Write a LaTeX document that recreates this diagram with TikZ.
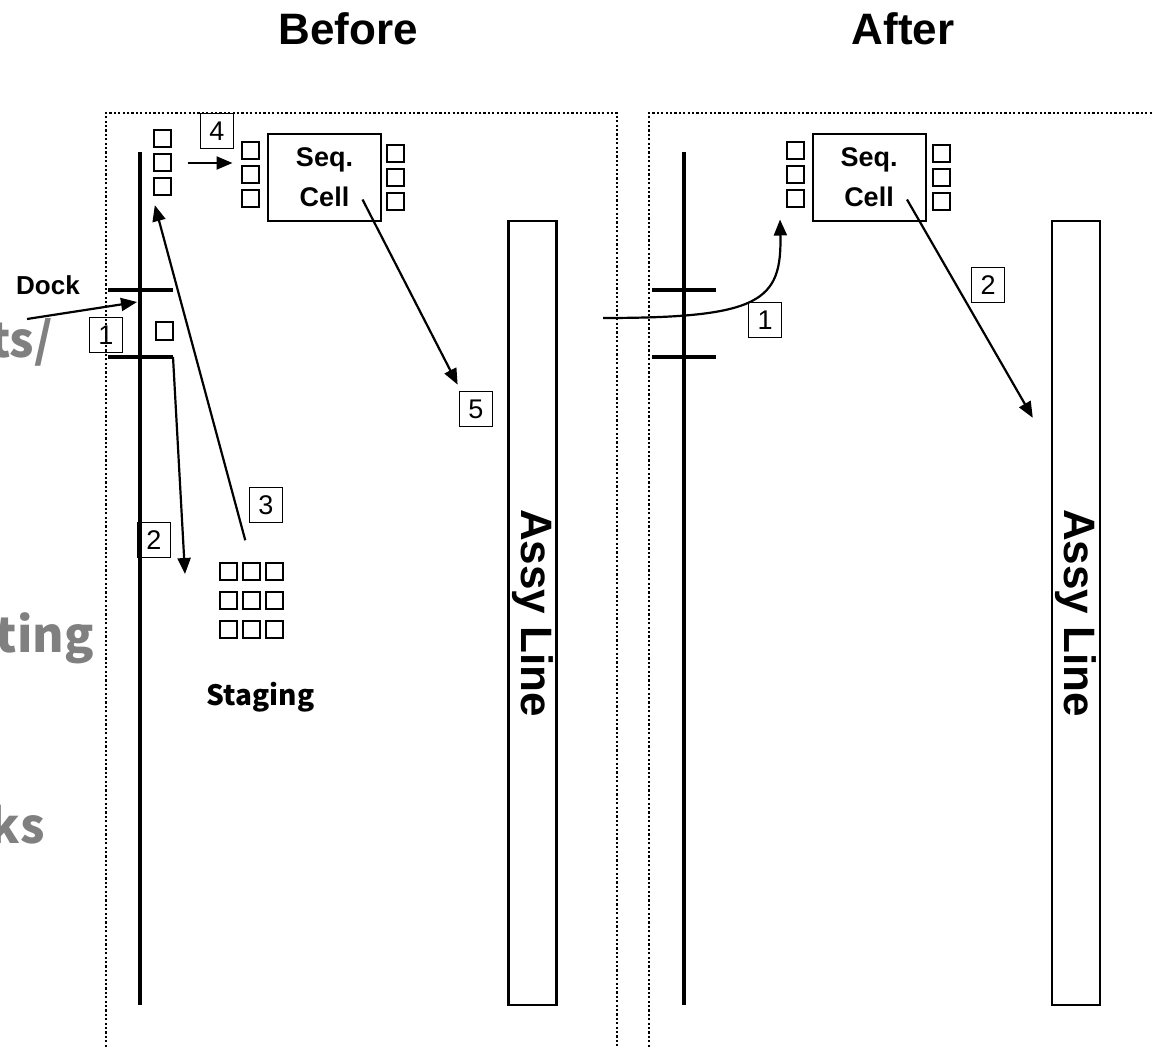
\documentclass[tikz,border=0pt]{standalone}
\usepackage{fontspec}
\newfontfamily\gothic{Noto Sans CJK JP}
\newfontfamily\arial{Liberation Sans}
\usetikzlibrary{arrows.meta}
\definecolor{fade}{RGB}{128,128,128}

\begin{document}
\begin{tikzpicture}[x=1pt, y=-1pt,
		b/.style = {rectangle, draw, line width=2pt, minimum size=17pt, inner sep=0pt},
		n/.style = {rectangle, draw, line width=1.7pt, minimum width=33pt, minimum height=35pt, inner sep=0pt, font=\arial\fontsize{27}{27}\selectfont},
		c/.style = {rectangle, draw, line width=2pt, minimum width=113pt, minimum height=87pt, align=center, font=\arial\bfseries\fontsize{27}{40}\selectfont},
		l/.style = {rectangle, draw, line width=2.4pt, minimum width=48pt, minimum height=784pt, inner sep=0pt},
		t/.style = {anchor=base, inner sep=0pt, font=\arial\bfseries\fontsize{44}{44}\selectfont},
		lb/.style = {anchor=base, inner sep=0pt, font=\gothic\bfseries\fontsize{28}{28}\selectfont},
		g/.style = {font=\gothic\bfseries\fontsize{48}{48}\selectfont, text=fade, anchor=base east, inner sep=0pt},
		w/.style = {line width=3.2pt},
		f/.style = {line width=2.2pt, dash pattern=on 2.2pt off 2.2pt},
		r/.style = {-{Triangle[length=16pt,width=13pt]}, line width=2.2pt}
		]
		\useasboundingbox (0,0) rectangle (1153,1048);
		
		%Titles and cut-off side text
		\node[t]	(bef)	at	(348,45)	{Before};
		\node[t]	(aft)	at	(903,45)	{After};
		\node[g]	(g1)	at	(53,357)	{ts/};
		\node[g]	(g2)	at	(94,652)	{tting};
		\node[g]	(g3)	at	(45,843)	{ks};
		
		%Frames and walls
		\draw[f]	(106,1060) -- (106,113) -- (617,113) -- (617,1060);
		\draw[f]	(649,1060) -- (649,113) -- (1160,113);
		\draw[w]	(140,152) -- (140,1005);
		\draw[w]	(108,290) -- (173,290);
		\draw[w]	(108,357) coordinate (dl1) -- (173,357) coordinate (dl2);
		\draw[w]	(684,152) -- (684,1005);
		\draw[w]	(652,290) -- (716,290);
		\draw[w]	(652,357) -- (716,357);
		
		%Nodes before
		\node[b]	(w1)	at	(162,139)	{};
		\node[b]	(w2)	at	(162,163)	{};
		\node[b]	(w3)	at	(162,187)	{};
		\node[b]	(d1)	at	(164,331)	{};
		\node[b]	(cl1)	at	(250,151)	{};
		\node[b]	(cl2)	at	(250,175)	{};
		\node[b]	(cl3)	at	(250,199)	{};
		\node[c]	(cell)	at	(324.5,177.5)	{Seq.\\Cell};
		\node[b]	(cr1)	at	(395,154)	{};
		\node[b]	(cr2)	at	(395,178)	{};
		\node[b]	(cr3)	at	(395,202)	{};
		\foreach \i/\x in {1/228,2/251,3/274}
			\foreach \j/\y in {1/571,2/600,3/629}
				\node[b]	(g\j\i)	at	(\x,\y)	{};
		\node[lb]	(stg)	at	(260.5,705)	{Staging};
		\node[lb, font=\arial\bfseries\fontsize{26}{26}\selectfont]	(dock)	at	(48,295)	{Dock};
		\node[l]	(al)	at	(532.5,613)	{};
		\node[font=\arial\bfseries\fontsize{44}{44}\selectfont, rotate=-90]	at	(al)	{Assy Line};
		\node[n]	(n1)	at	(106,335)	{1};
		\node[n]	(n2)	at	(154,540)	{2};
		\node[n]	(n3)	at	(266,505)	{3};
		\node[n]	(n4)	at	(217,131)	{4};
		\node[n]	(n5)	at	(476,409)	{5};
		\coordinate	(dk)	at	(27,319);
		\coordinate	(dkw)	at	(137,302);
		\coordinate	(stw)	at	(185,574);
		
		%Lines before
		\draw[r]	(dk)	--	(dkw);
		\draw[r]	(dl2)	--	(stw);
		\draw[r, shorten <=22pt, shorten >=9pt]	(g12.north)	--	(w3.south west);
		\draw[r, shorten <=16pt, shorten >=8pt]	(w2.east)	--	(w2.east -| cl1.west);
		\draw[r]	([shift={(38,22)}]cell.center)	--	([shift={(-1,-6)}]n5.north west);
		
		%Nodes after
		\node[b]	(rcl1)	at	(795,151)	{};
		\node[b]	(rcl2)	at	(795,175)	{};
		\node[b]	(rcl3)	at	(795,199)	{};
		\node[c]	(rcell)	at	(869,177.5)	{Seq.\\Cell};
		\node[b]	(rcr1)	at	(941,154)	{};
		\node[b]	(rcr2)	at	(941,178)	{};
		\node[b]	(rcr3)	at	(941,202)	{};
		\node[l]	(ral)	at	(1076,613)	{};
		\node[font=\arial\bfseries\fontsize{44}{44}\selectfont, rotate=-90]	at	(ral)	{Assy Line};
		\node[n]	(rn1)	at	(765,320)	{1};
		\node[n]	(rn2)	at	(988,285)	{2};
		\coordinate	(rin)	at	(603,318);
		
		%Lines after
		\draw[r]	(rin)	.. controls +(157,0) and +(2,82) ..	([shift={(-15,11)}]rcl3.south);
		\draw[r]	([shift={(38,22)}]rcell.center)	--	([shift={(-18,198)}]ral.north west);
	\end{tikzpicture}
\end{document}
